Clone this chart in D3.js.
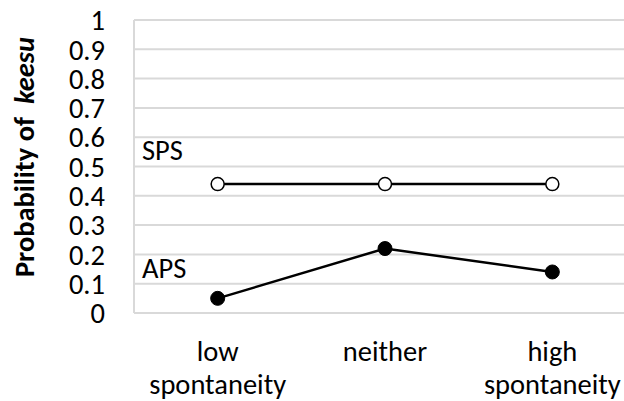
<!DOCTYPE html>
<html><head><meta charset="utf-8">
<script src="https://cdn.jsdelivr.net/npm/d3@7"></script>
<style>body{margin:0;background:#fff}svg{display:block}text{font-family:Carlito,Lato,sans-serif}</style>
</head><body>
<svg id="c" width="624" height="401"></svg>
<script>
const categories = [["low","spontaneity"],["neither"],["high","spontaneity"]];
const catKeys = ["low","neither","high"];
const spsValues = [0.44, 0.44, 0.44];
const apsValues = [0.05, 0.22, 0.14];
const yTicks = [0,0.1,0.2,0.3,0.4,0.5,0.6,0.7,0.8,0.9,1];
const yTickLabels = ["0","0.1","0.2","0.3","0.4","0.5","0.6","0.7","0.8","0.9","1"];

(function(){
const svg = d3.select("#c");
const FS = 28.5;
const pL = 134, pR = 636, pT = 20, pB = 313;
const x = d3.scaleBand().domain(catKeys).range([pL, pR]);
const y = d3.scaleLinear().domain([0,1]).range([pB, pT]);

svg.append("g").selectAll("line").data(yTicks).join("line")
  .attr("x1", pL).attr("x2", 624)
  .attr("y1", d=>y(d)).attr("y2", d=>y(d))
  .attr("stroke", "#d9d9d9").attr("stroke-width", 2);
svg.append("line").attr("x1", pL).attr("x2", pL).attr("y1", pT).attr("y2", pB)
  .attr("stroke", "#d9d9d9").attr("stroke-width", 2);

const yAxis = d3.axisLeft(y).tickValues(yTicks).tickFormat((d,i)=>yTickLabels[i]).tickSize(0).tickPadding(0);
const ga = svg.append("g").attr("transform", `translate(105,0)`).call(yAxis);
ga.select(".domain").remove();
ga.selectAll("text").attr("font-size", FS).attr("fill", "#000").attr("font-family", 'Carlito,Lato,sans-serif').attr("dy","0.34em");

const cx = d => x(d) + x.bandwidth()/2;
categories.forEach((lines, i) => {
  const t = svg.append("text").attr("text-anchor", "middle").attr("font-size", FS);
  lines.forEach((ln, j) => {
    t.append("tspan").attr("x", cx(catKeys[i])).attr("y", 361 + j*33).text(ln);
  });
});

const title = svg.append("text").attr("transform", `translate(34,157) rotate(-90)`)
  .attr("text-anchor", "middle").attr("font-size", 28.5).attr("font-weight", "bold")
  .style("white-space", "pre");
title.append("tspan").text("Probability of  ");
title.append("tspan").attr("font-style", "italic").text("keesu");

const line = d3.line().x((d,i)=>cx(catKeys[i])).y(d=>y(d));
svg.append("path").datum(spsValues).attr("d", line).attr("fill","none").attr("stroke","#000").attr("stroke-width", 2.5);
svg.append("path").datum(apsValues).attr("d", line).attr("fill","none").attr("stroke","#000").attr("stroke-width", 2.5);

svg.append("g").selectAll("circle").data(spsValues).join("circle")
  .attr("cx",(d,i)=>cx(catKeys[i])).attr("cy", d=>y(d)).attr("r", 6.5)
  .attr("fill","#fff").attr("stroke","#000").attr("stroke-width",1.5);
svg.append("g").selectAll("circle").data(apsValues).join("circle")
  .attr("cx",(d,i)=>cx(catKeys[i])).attr("cy", d=>y(d)).attr("r", 7)
  .attr("fill","#000").attr("stroke","#000").attr("stroke-width",1);

svg.append("text").attr("x", 142).attr("y", 160).attr("font-size", FS).text("SPS");
svg.append("text").attr("x", 142).attr("y", 278).attr("font-size", FS).text("APS");
})();
</script>
</body></html>
